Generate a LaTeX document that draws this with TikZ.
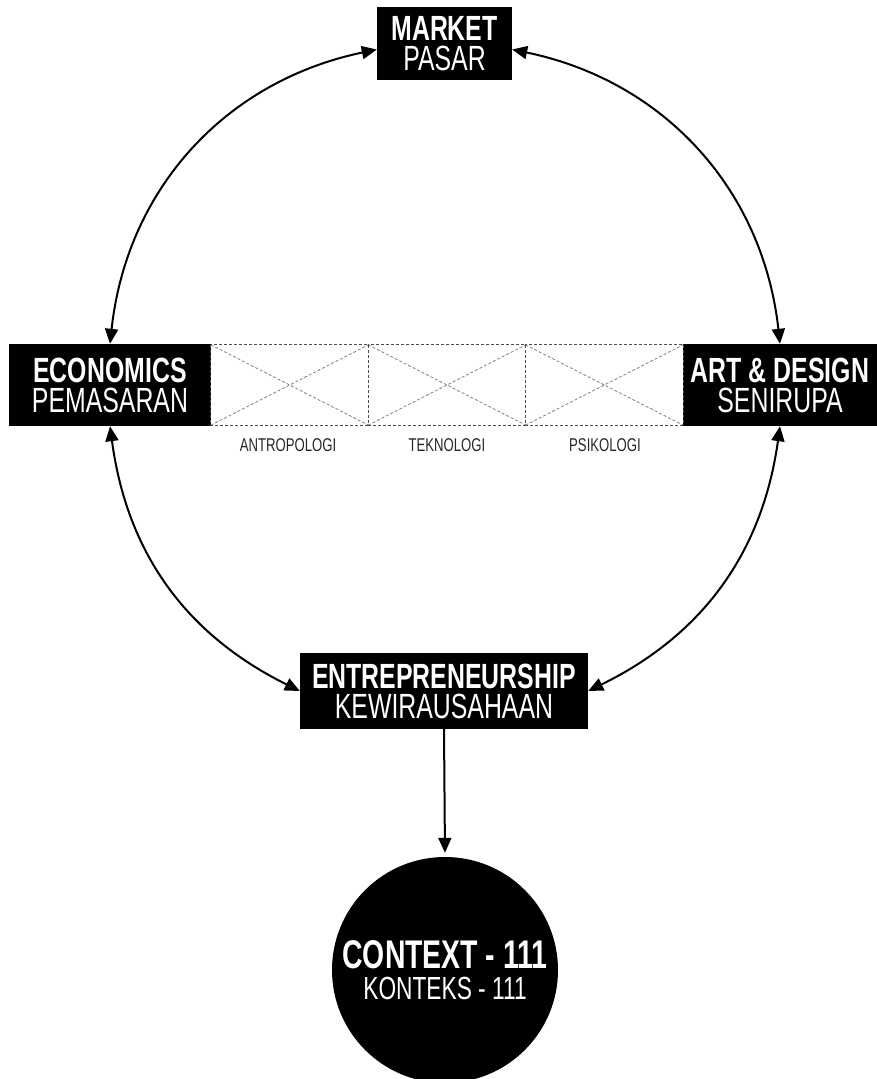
\documentclass[tikz,border=0pt]{standalone}
\usepackage{fontspec}
\newfontfamily\cond[FakeStretch=0.71]{Liberation Sans}
\usetikzlibrary{arrows.meta}
\begin{document}
\begin{tikzpicture}[x=1pt,y=-1pt,
  box/.style={fill=black,text=white,inner sep=0pt,align=center,
    font=\cond\fontsize{35}{30}\selectfont},
  cell/.style={inner sep=0pt,minimum width=157.33pt,minimum height=80pt},
  link/.style={line width=2pt,{Triangle[length=15pt,width=13pt]}-{Triangle[length=15pt,width=13pt]}},
  frame/.style={dash pattern=on 3pt off 2pt,line width=1pt,draw=black!70},
  diag/.style={dash pattern=on 3pt off 2pt,line width=0.8pt,draw=black!50},
  tag/.style={inner sep=0pt,text=black!85,font=\cond\fontsize{18.5}{18.5}\selectfont}]
\useasboundingbox (0,0) rectangle (877,1079);

% discipline boxes
\node[box,minimum width=135pt,minimum height=73pt] (market) at (444.5,43.5) {\textbf{MARKET}\\PASAR};
\node[box,minimum width=202pt,minimum height=82pt] (econ) at (110,385) {\textbf{ECONOMICS}\\PEMASARAN};
\node[box,minimum width=194pt,minimum height=82pt] (art) at (780,385) {\textbf{ART \& DESIGN}\\SENIRUPA};
\node[box,minimum width=288pt,minimum height=76pt] (entre) at (444,691) {\textbf{ENTREPRENEURSHIP}\\KEWIRAUSAHAAN};

% outcome circle
\node[circle,fill=black,text=white,inner sep=0pt,minimum size=226pt,align=center,
  font=\cond\fontsize{40}{31}\selectfont] (ctx) at (445,970)
  {\textbf{CONTEXT - 111}\\{\fontsize{32}{31}\selectfont KONTEKS - 111}};

% bridging fields between economics and art
\node[cell] (c1) at (289.67,385) {};
\node[cell] (c2) at (447,385) {};
\node[cell] (c3) at (604.33,385) {};
\foreach \c in {c1,c2,c3}{
  \draw[diag] (\c.north west) -- (\c.south east);
  \draw[diag] (\c.south west) -- (\c.north east);
  \draw[frame] (\c.north west) rectangle (\c.south east);
}
\node[tag] (t1) at (288,445) {ANTROPOLOGI};
\node[tag] (t2) at (447,445) {TEKNOLOGI};
\node[tag] (t3) at (605,445) {PSIKOLOGI};

% cycle of relations
\draw[link] ([yshift=-6pt]market.west) to[bend right=36] (econ.north);
\draw[link] ([yshift=-6pt]market.east) to[bend left=36] (art.north);
\draw[link] (econ.south) to[bend right=28] (entre.west);
\draw[link] (art.south) to[bend left=28] (entre.east);

% result
\draw[line width=2pt,-{Triangle[length=15pt,width=13pt]},shorten >=4pt] (entre.south) -- (ctx.north);
\end{tikzpicture}
\end{document}
